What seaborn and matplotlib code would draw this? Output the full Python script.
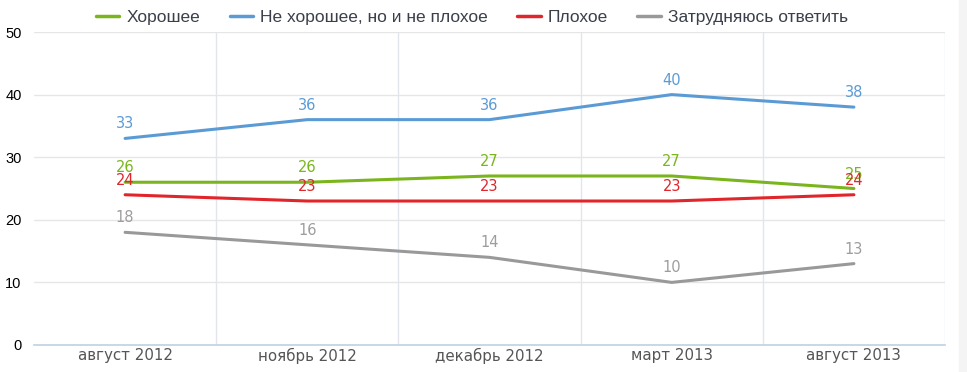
import matplotlib
matplotlib.use("Agg")
import matplotlib.pyplot as plt
import seaborn as sns
import pandas as pd

# data
periods = ["август 2012", "ноябрь 2012", "декабрь 2012", "март 2013", "август 2013"]
series_names = ["Хорошее", "Не хорошее, но и не плохое", "Плохое", "Затрудняюсь ответить"]
good = [26, 26, 27, 27, 25]
neutral = [33, 36, 36, 40, 38]
bad = [24, 23, 23, 23, 24]
unsure = [18, 16, 14, 10, 13]
colors = ["#7ab51d", "#5b9bd5", "#e0262b", "#999999"]
label_colors = ["#7ab51d", "#5b9bd5", "#e0262b", "#a09c9c"]

rows = []
for name, vals in zip(series_names, [good, neutral, bad, unsure]):
    for i, v in enumerate(vals):
        rows.append({"x": i, "value": v, "series": name})
df = pd.DataFrame(rows)

sns.set_style("white")
plt.rcParams['font.family'] = ['Liberation Sans', 'DejaVu Sans']

fig = plt.figure(figsize=(9.67, 3.72), dpi=100)
ax = fig.add_axes([34/967, 1-345/372, (945-34)/967, (345-32)/372])

# grid
for yv in range(10, 51, 10):
    ax.axhline(yv, color="#e6e6e6", lw=1, zorder=0)
for xv in [0.5, 1.5, 2.5, 3.5, 4.5]:
    ax.axvline(xv, color="#e2e6ec", lw=1, zorder=0)

sns.lineplot(data=df, x="x", y="value", hue="series", hue_order=series_names,
             palette=colors, linewidth=2.2, ax=ax, legend=False, zorder=3)

# value labels
for name, vals, c in zip(series_names, [good, neutral, bad, unsure], label_colors):
    for i, v in enumerate(vals):
        ax.annotate(str(v), (i, v), xytext=(0, 5), textcoords="offset points",
                    ha="center", va="bottom", color=c, fontsize=10.5,
                    family="DejaVu Sans", zorder=4)

ax.set_xlim(-0.5, 4.5)
ax.set_ylim(0, 50)
ax.set_yticks(range(0, 51, 10))
ax.set_yticklabels([str(v) for v in range(0, 51, 10)], fontsize=10.5, color="#000000")
ax.set_xticks(range(len(periods)))
ax.set_xticklabels(periods, fontsize=10.8, color="#555555", family="DejaVu Sans")
ax.tick_params(axis="x", length=0, pad=2)
ax.tick_params(axis="y", length=0, pad=9)
ax.set_xlabel("")
ax.set_ylabel("")

for s in ["top", "right", "left"]:
    ax.spines[s].set_visible(False)
ax.spines["bottom"].set_color("#c0d0e0")
ax.spines["bottom"].set_linewidth(1.2)
ax.spines["bottom"].set_zorder(5)

# boundary ticks on the category axis
ax.set_xticks([0.5, 1.5, 2.5, 3.5, 4.5], minor=True)
ax.tick_params(axis="x", which="minor", length=5, color="#c0d0e0", width=1)

# legend
handles = [plt.Line2D([], [], color=c, lw=2.5) for c in colors]
fig.legend(handles, series_names, loc="center", bbox_to_anchor=(472/967, 1-17/372),
           ncol=4, frameon=False, fontsize=12.5, handlelength=1.35, handletextpad=0.4,
           columnspacing=1.7, labelcolor="#3a3f4a", borderaxespad=0, borderpad=0)

# light strip at the right edge
fig.patches.append(plt.Rectangle((959/967, 0), 8/967, 1, transform=fig.transFigure,
                                 color="#f4f4f4", zorder=0))

fig.savefig("out.png", dpi=100)
